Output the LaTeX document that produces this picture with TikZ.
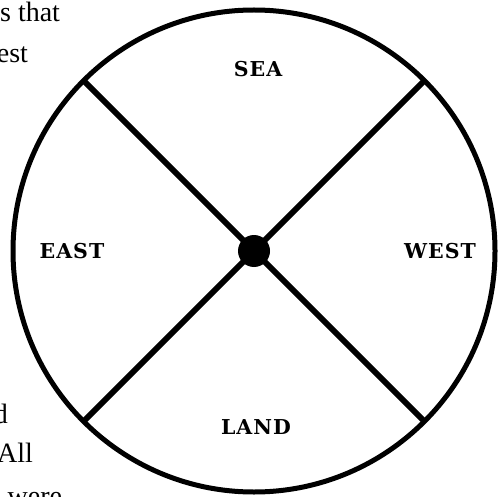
\documentclass[tikz,border=0pt]{standalone}
\usepackage{fontspec}
\setmainfont{Liberation Serif}
\newfontfamily\quarterfont[LetterSpace=5]{DejaVu Serif}
\usetikzlibrary{positioning}

\begin{document}
\begin{tikzpicture}[
		x=1pt, y=-1pt,
		every node/.style={inner sep=0pt, outer sep=0pt},
		wheel/.style={draw, circle, line width=5pt, minimum size=482pt},
		hub/.style={fill, circle, minimum size=32pt},
		spoke/.style={line width=6pt},
		quarter/.style={font=\quarterfont\bfseries\fontsize{20.5}{24}\selectfont, anchor=base},
		margin/.style={font=\fontsize{28}{32}\selectfont, anchor=base east}
		]
		\clip (0,0) rectangle (503,497);
		
		% ---- Margin text ----
		\node[margin] (line1) at (60,22) {s that};
		\node[margin] (line2) at (28,63) {est};
		\node[margin] (line3) at (8,423) {d};
		\node[margin] (line4) at (33,462) {All};
		\node[margin] (line5) at (62,505) {ra were};
		
		% ---- Wheel ----
		\node[wheel] (rim) at (254,251) {};
		\draw[spoke] (rim.north west) -- (rim.south east);
		\draw[spoke] (rim.north east) -- (rim.south west);
		\node[hub] (hub) at (rim.center) {};
		
		% ---- Quarters ----
		\node[quarter] (sea) at (258,77) {SEA};
		\node[quarter] (east) at (72,258) {EAST};
		\node[quarter] (west) at (440,258) {WEST};
		\node[quarter] (land) at (256,434) {LAND};
		
	\end{tikzpicture}
\end{document}
